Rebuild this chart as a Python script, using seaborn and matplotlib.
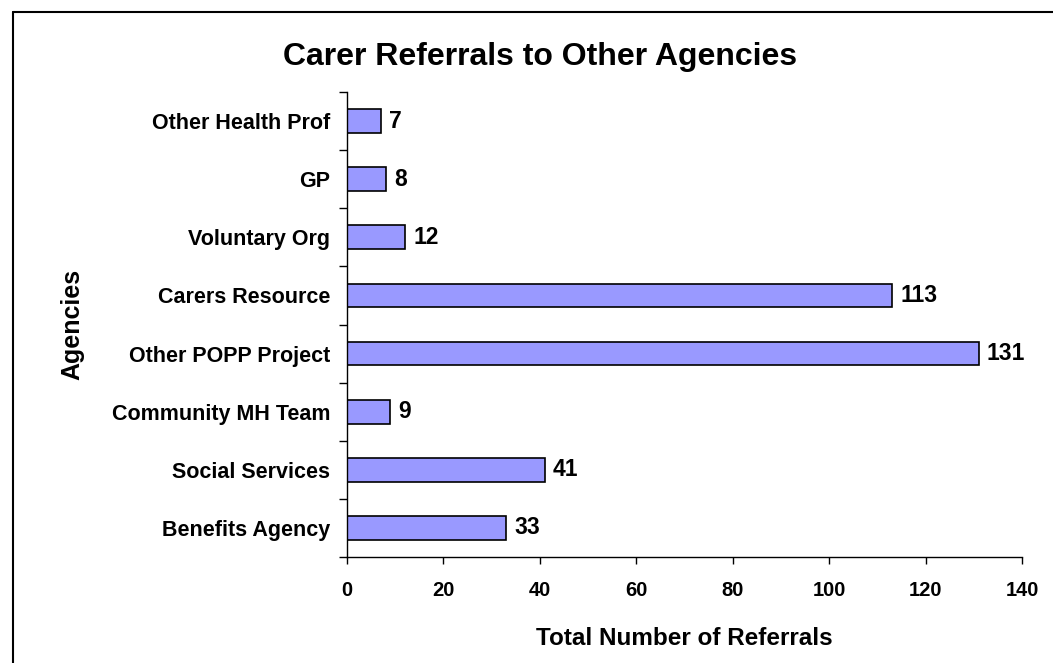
import numpy as np
import pandas as pd
import matplotlib
matplotlib.use("Agg")
import matplotlib.pyplot as plt
import seaborn as sns
from matplotlib.lines import Line2D

# data
agencies = ["Other Health Prof", "GP", "Voluntary Org", "Carers Resource",
            "Other POPP Project", "Community MH Team", "Social Services",
            "Benefits Agency"]
referrals = [7, 8, 12, 113, 131, 9, 41, 33]
x_ticks = [0, 20, 40, 60, 80, 100, 120, 140]

df = pd.DataFrame({"agency": agencies, "referrals": referrals})

sns.set_style("white")
plt.rcParams["font.family"] = ["Liberation Sans", "DejaVu Sans"]
plt.rcParams["text.color"] = "black"
plt.rcParams["axes.labelcolor"] = "black"
plt.rcParams["xtick.color"] = "black"
plt.rcParams["ytick.color"] = "black"

fig = plt.figure(figsize=(10.53, 6.63), dpi=100)
ax = fig.add_axes([347 / 1053, 1 - 557 / 663, (1022 - 347) / 1053, (557 - 92) / 663])

sns.barplot(data=df, x="referrals", y="agency", order=agencies,
            color="#9999ff", edgecolor="black", linewidth=1.2,
            width=0.41, saturation=1, ax=ax)

for c in ax.containers:
    ax.bar_label(c, padding=6, fontsize=16.5, fontweight="bold")

ax.set_xlim(0, 140)
ax.set_ylim(len(agencies) - 0.5, -0.5)
ax.set_xticks(x_ticks)
ax.set_xticklabels([str(v) for v in x_ticks], fontsize=14.5, fontweight="bold")
ax.set_yticklabels(agencies, fontsize=15.5, fontweight="bold")
ax.set_yticks(np.arange(-0.5, len(agencies)), minor=True)
ax.tick_params(axis="y", which="major", length=0, pad=12)
ax.tick_params(axis="y", which="minor", length=6, width=1, direction="out", left=True)
ax.tick_params(axis="x", which="major", length=5, width=1, direction="out", bottom=True, pad=12)

for s in ["top", "right"]:
    ax.spines[s].set_visible(False)
for s in ["left", "bottom"]:
    ax.spines[s].set_color("black")
    ax.spines[s].set_linewidth(1)

ax.set_xlabel("Total Number of Referrals", fontsize=17.5, fontweight="bold", labelpad=20)
ax.set_ylabel("Agencies", fontsize=18, fontweight="bold", labelpad=20)

fig.text(540 / 1053, 1 - 57 / 663, "Carer Referrals to Other Agencies",
         ha="center", va="center", fontsize=23, fontweight="bold")

# outer chart frame (top and left edges visible)
fig.add_artist(Line2D([13 / 1053, 1], [1 - 12 / 663, 1 - 12 / 663],
                      transform=fig.transFigure, color="black", lw=1.5))
fig.add_artist(Line2D([13 / 1053, 13 / 1053], [0, 1 - 12 / 663],
                      transform=fig.transFigure, color="black", lw=1.5))

fig.savefig("out.png", dpi=100)
